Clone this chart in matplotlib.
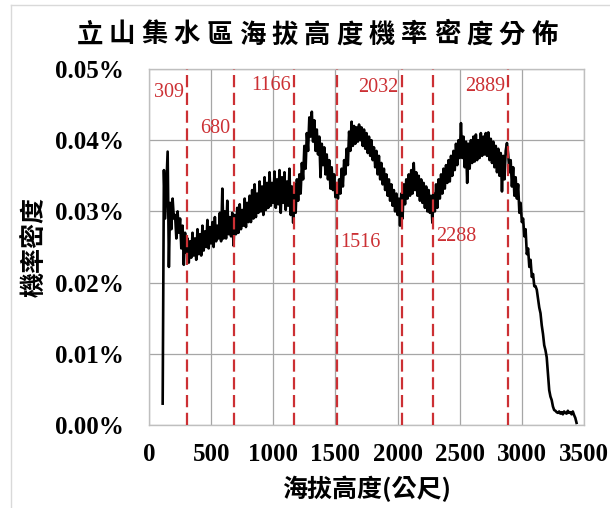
import matplotlib
matplotlib.use("Agg")
import matplotlib.pyplot as plt
import numpy as np
from matplotlib.lines import Line2D

# ---- data -------------------------------------------------------------
# Probability density of elevation, 10 m bins starting at 110 m,
# in units of 1e-6 (100 = 0.01 %).
elev_first = 110
elev_step = 10
density_ppm = [
    30, 358, 290, 335, 384, 222, 312, 275, 318, 290,      # 110-200
    295, 262, 300, 270, 290, 248, 280, 225, 270, 242,     # 210-300
    262, 228, 258, 235, 270, 238, 262, 232, 275, 240,     # 310-400
    268, 238, 280, 245, 272, 250, 288, 248, 278, 255,     # 410-500
    285, 250, 292, 258, 280, 262, 298, 258, 332, 262,     # 510-600
    300, 262, 315, 268, 292, 265, 298, 252, 295, 268,     # 610-700
    305, 270, 310, 275, 302, 280, 318, 278, 312, 285,     # 710-800
    322, 285, 330, 290, 338, 292, 325, 298, 342, 300,     # 810-900
    335, 295, 348, 302, 340, 305, 355, 308, 340, 312,     # 910-1000
    356, 305, 345, 310, 358, 298, 348, 312, 355, 302,     # 1010-1100
    342, 308, 360, 295, 335, 284, 338, 298, 345, 315,     # 1110-1200
    352, 325, 368, 345, 392, 360, 410, 385, 432, 405,     # 1210-1300
    440, 398, 428, 385, 415, 380, 405, 348, 395, 365,     # 1310-1400
    390, 352, 380, 345, 372, 332, 362, 330, 352, 320,     # 1410-1500
    338, 318, 345, 325, 360, 335, 372, 352, 388, 365,     # 1510-1600
    412, 385, 426, 392, 420, 395, 418, 398, 422, 400,     # 1610-1700
    418, 392, 415, 388, 410, 382, 405, 378, 400, 372,     # 1710-1800
    390, 362, 385, 352, 378, 345, 368, 338, 360, 330,     # 1810-1900
    352, 322, 345, 315, 338, 308, 330, 300, 325, 295,     # 1910-2000
    318, 280, 325, 290, 338, 310, 345, 318, 352, 322,     # 2010-2100
    358, 325, 368, 330, 355, 322, 350, 315, 345, 312,     # 2110-2200
    340, 305, 335, 300, 330, 298, 322, 284, 325, 300,     # 2210-2300
    338, 305, 345, 318, 352, 325, 360, 332, 365, 340,     # 2310-2400
    372, 342, 378, 350, 385, 358, 395, 365, 400, 375,     # 2410-2500
    424, 375, 405, 362, 398, 340, 395, 360, 400, 368,     # 2510-2600
    405, 370, 408, 372, 400, 375, 410, 378, 405, 380,     # 2610-2700
    410, 378, 411, 372, 402, 368, 398, 362, 392, 355,     # 2710-2800
    388, 350, 382, 328, 378, 345, 385, 396, 380, 355,     # 2810-2900
    372, 335, 362, 322, 348, 318, 338, 298, 312, 285,     # 2910-3000
    290, 265, 275, 240, 248, 222, 232, 208, 212, 195,     # 3010-3100
    195, 190, 178, 165, 157, 140, 128, 112, 105, 95,      # 3110-3200
    72, 49, 40, 35, 26, 21, 20, 18, 17, 19,               # 3210-3300
    16, 18, 15, 19, 17, 16, 20, 17, 18, 15,               # 3310-3400
    19, 14, 10, 3,                                        # 3410-3440
]

# elevation break points marked with dashed lines
breaks = [309, 680, 1166, 1516, 2032, 2288, 2889]

x_ticks = [0, 500, 1000, 1500, 2000, 2500, 3000, 3500]
y_ticks_ppm = [0, 100, 200, 300, 400, 500]

title = "立山集水區海拔高度機率密度分佈"
x_label = "海拔高度(公尺)"
y_label = "機率密度"

# ---- styling ----------------------------------------------------------
SERIF = "Liberation Serif"
CJK = ["Noto Sans CJK TC", "DejaVu Sans"]
RED = "#CC3034"

W, H = 610, 508
fig = plt.figure(figsize=(W / 100, H / 100), dpi=100)
fig.patch.set_facecolor("white")

# thin grey outer frame
fig.add_artist(Line2D([11 / W, 1.0], [1 - 5 / H, 1 - 5 / H],
                      transform=fig.transFigure, color="#d9d9d9", lw=1.0))
fig.add_artist(Line2D([11 / W, 11 / W], [0.0, 1 - 5 / H],
                      transform=fig.transFigure, color="#d9d9d9", lw=1.0))

L, R, T, B = 149, 584, 69, 425
ax = fig.add_axes([L / W, 1 - B / H, (R - L) / W, (B - T) / H])

elev = elev_first + elev_step * np.arange(len(density_ppm))
ax.plot(elev, density_ppm, color="black", lw=1.9, zorder=3)

for b in breaks:
    ax.axvline(b, color=RED, lw=1.6, dashes=(5.5, 2.5), zorder=4)

# break labels: upper ones sit left of their line, lower ones to the right
label_layout = {
    309: (0.935, "left"), 680: (0.834, "left"), 1166: (0.955, "left"),
    2032: (0.949, "left"), 2889: (0.951, "left"),
    1516: (0.514, "right"), 2288: (0.530, "right"),
}
for b in breaks:
    yf, side = label_layout[b]
    dx = -3 if side == "left" else 3
    ax.annotate(str(b), xy=(b, yf), xycoords=("data", "axes fraction"),
                xytext=(dx, 0), textcoords="offset pixels",
                ha="right" if side == "left" else "left", va="center",
                color=RED, fontsize=14.5, family=SERIF, zorder=5)

ax.set_xlim(0, 3500)
ax.set_ylim(0, 500)
ax.set_xticks(x_ticks)
ax.set_xticklabels([str(v) for v in x_ticks])
ax.set_yticks(y_ticks_ppm)
ax.set_yticklabels([f"{v / 1e4:.2f}%" for v in y_ticks_ppm])

for lab in ax.get_xticklabels() + ax.get_yticklabels():
    lab.set_fontfamily(SERIF)
    lab.set_fontweight("bold")
    lab.set_fontsize(18)
ax.tick_params(axis="both", length=0)
ax.tick_params(axis="y", pad=18)
ax.tick_params(axis="x", pad=13)

ax.grid(True, color="#a6a6a6", lw=0.9)
ax.set_axisbelow(True)
for sp in ax.spines.values():
    sp.set_color("#bfbfbf")
    sp.set_linewidth(1.0)

ax.set_xlabel(x_label, family=CJK, fontweight="bold", fontsize=18, va="center")
ax.xaxis.set_label_coords(0.5, (B - 489) / (B - T))
ax.set_ylabel(y_label, family=CJK, fontweight="bold", fontsize=18, va="center")
ax.yaxis.set_label_coords((35 - L) / (R - L), 0.5)

# title, one glyph per cell with wide spacing
pitch = 32.5
cx = 317
start = cx - pitch * (len(title) - 1) / 2
for i, ch in enumerate(title):
    fig.text((start + pitch * i) / W, 1 - 35 / H, ch, ha="center", va="center",
             family=CJK, fontweight="bold", fontsize=19)

fig.savefig("out.png", dpi=100, facecolor="white")
